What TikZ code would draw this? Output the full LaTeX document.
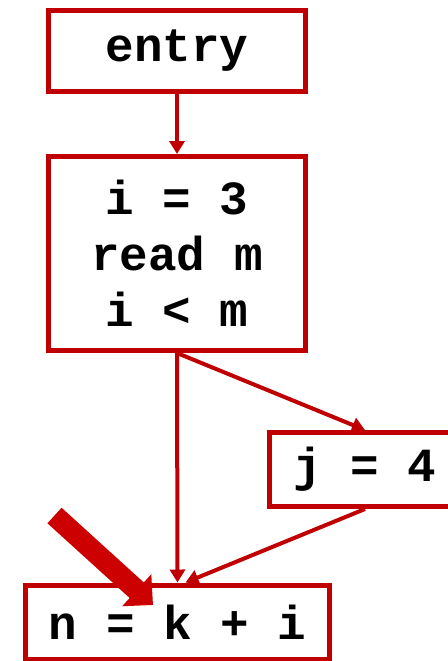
\documentclass[tikz,border=0pt]{standalone}
\usepackage{fontspec}
\setmonofont{Liberation Mono}
\usepackage{tikz}
\usetikzlibrary{arrows.meta, positioning, calc}
\definecolor{cfgred}{HTML}{C00000}
\definecolor{ptrred}{HTML}{CC0000}

\begin{document}
\begin{tikzpicture}[
    x=0.5pt, y=-0.5pt,
    >={Triangle[length=6.5pt, width=7.5pt]},
    block/.style={draw=cfgred, line width=2.5pt, fill=white, inner sep=0pt, align=center,
        font=\ttfamily\bfseries\fontsize{23.8}{28}\selectfont},
    arrow/.style={->, line width=2pt, cfgred},
]
    \useasboundingbox (0,0) rectangle (447,661);

    \node[block, minimum width=128.5pt, minimum height=40.5pt] (entry) at (177, 51) {entry};
    \node[block, minimum width=128.5pt, minimum height=97pt] (head) at (177, 253.5) {i = 3\\read m\\i < m};
    \node[block, minimum width=95pt, minimum height=37pt] (then) at (365, 469.5) {j = 4};
    \node[block, minimum width=152pt, minimum height=37pt] (join) at (177.5, 622) {n = k + i};

    \draw[arrow] (entry) -- (head);
    \draw[arrow] (head.south) -- (then.north);
    \draw[arrow] (head.south) -- (join.north);
    \draw[arrow] (then.south) -- ([xshift=4pt]join.north);

    \coordinate (ptr) at (54.5, 515.5);
    \coordinate (ptr tip) at (153, 605);
    \draw[ptrred, line width=10.5pt, -{Triangle[length=11pt, width=21pt]}] (ptr) -- (ptr tip);
\end{tikzpicture}
\end{document}
